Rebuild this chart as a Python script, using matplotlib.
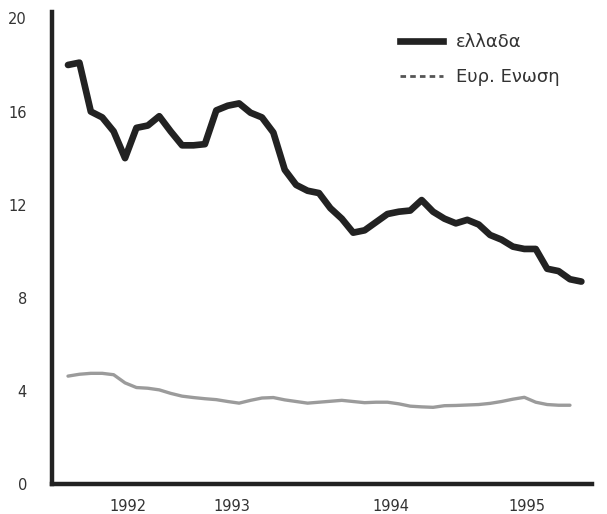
import numpy as np
import matplotlib.pyplot as plt
from matplotlib.lines import Line2D

# monthly values, mid 1991 -> mid 1995
ellada = [18.0, 18.1, 16.0, 15.75, 15.15, 14.0, 15.3, 15.4, 15.8, 15.15,
          14.55, 14.55, 14.6, 16.05, 16.25, 16.35, 15.95, 15.75, 15.1, 13.5,
          12.85, 12.6, 12.5, 11.85, 11.4, 10.8, 10.9, 11.25, 11.6, 11.7,
          11.75, 12.2, 11.7, 11.4, 11.2, 11.35, 11.15, 10.7, 10.5, 10.2,
          10.1, 10.1, 9.25, 9.15, 8.8, 8.7]
eu = [4.64, 4.72, 4.76, 4.76, 4.7, 4.35, 4.15, 4.12, 4.05, 3.9,
      3.78, 3.72, 3.67, 3.63, 3.55, 3.48, 3.6, 3.7, 3.72, 3.62,
      3.55, 3.48, 3.52, 3.56, 3.6, 3.55, 3.5, 3.52, 3.52, 3.45,
      3.35, 3.32, 3.3, 3.37, 3.38, 3.4, 3.42, 3.47, 3.55, 3.65,
      3.73, 3.52, 3.42, 3.39, 3.39]
year_labels = ['1992', '1993', '1994', '1995']
year_pos = [5.3, 14.4, 28.3, 40.2]
yticks = [0, 4, 8, 12, 16, 20]

fig = plt.figure(figsize=(6.07, 5.14), dpi=100)
ax = fig.add_axes([0.0857, 0.058, 0.889, 0.918])

ax.plot(np.arange(len(eu)), eu, color='#8a8a8a', lw=2.4, alpha=0.85,
        solid_capstyle='round')
ax.plot(np.arange(len(ellada)), ellada, color='#222222', lw=4.8,
        solid_joinstyle='round', solid_capstyle='round')

ax.set_xlim(-1.4, 45.9)
ax.set_ylim(0, 20.26)

for s in ['top', 'right']:
    ax.spines[s].set_visible(False)
for s in ['left', 'bottom']:
    ax.spines[s].set_linewidth(3.2)
    ax.spines[s].set_color('#222222')

ax.set_yticks(yticks)
ax.set_yticklabels([str(v) for v in yticks], fontsize=10.5, color='#333333')
ax.set_xticks(year_pos)
ax.set_xticklabels(year_labels, fontsize=10.5, color='#333333')
ax.tick_params(axis='y', length=0, pad=18)
ax.tick_params(axis='x', length=0, pad=11)

handles = [Line2D([], [], color='#222222', lw=4.8),
           Line2D([], [], color='#555555', lw=2, dashes=(2, 1.5))]
leg = ax.legend(handles, ['ελλαδα', 'Ευρ. Ενωση'], loc='upper left',
                bbox_to_anchor=(0.615, 0.99), frameon=False, fontsize=13,
                handlelength=2.4, labelspacing=0.95, handletextpad=0.7)
for t in leg.get_texts():
    t.set_color('#333333')

plt.savefig('out.png', dpi=100)
plt.close()
